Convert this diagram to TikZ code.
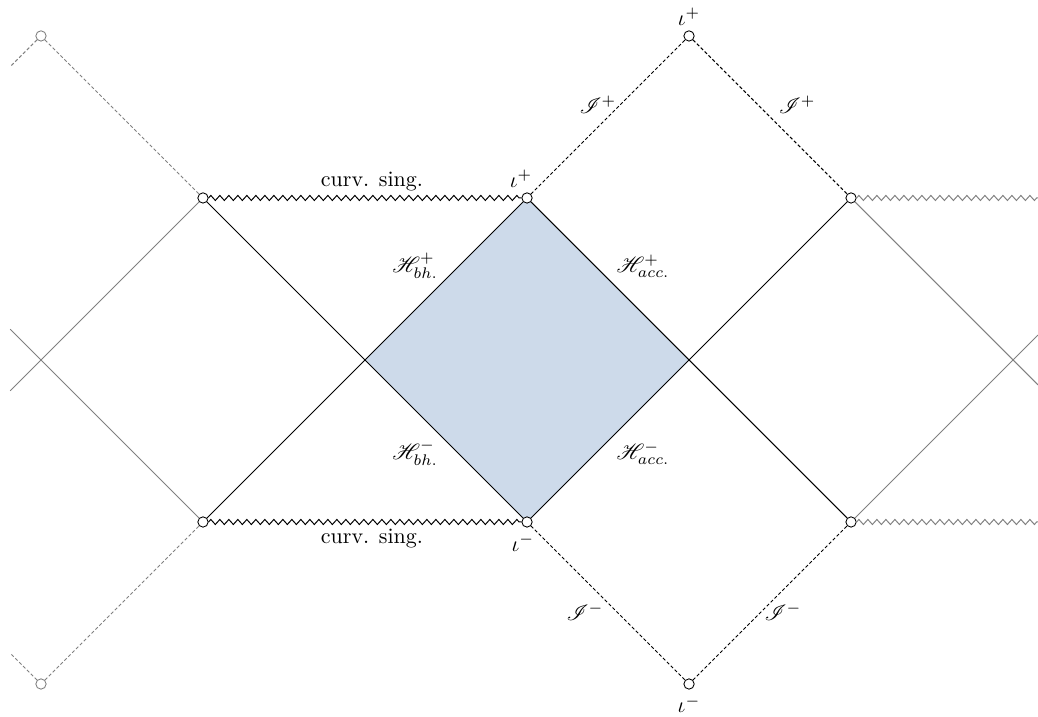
\documentclass[tikz,border=0pt]{standalone}
\usepackage{mathrsfs}
\usetikzlibrary{decorations.pathmorphing}
\definecolor{diamondfill}{RGB}{205,218,234}
\definecolor{lgray}{RGB}{128,128,128}
\tikzset{
  pt/.style={circle,draw=black,fill=white,inner sep=0pt,minimum size=0.165cm,line width=0.4pt},
  gpt/.style={pt,draw=lgray},
  hor/.style={draw=black,line width=0.45pt},
  ghor/.style={draw=lgray,line width=0.45pt},
  scri/.style={draw=black,line width=0.45pt,dash pattern=on 1.5pt off 1pt},
  gscri/.style={draw=lgray,line width=0.45pt,dash pattern=on 1.5pt off 1pt},
  sing/.style={draw=black,line width=0.45pt,decorate,decoration={zigzag,segment length=0.144cm,amplitude=0.04cm}},
  gsing/.style={sing,draw=lgray},
  lbl/.style={inner sep=0pt}
}
\begin{document}
\begin{tikzpicture}[x=2.592cm,y=2.592cm]
\useasboundingbox (-0.253,-2.198) rectangle (6.154,2.222);
% shaded region
\fill[diamondfill] (3,1) -- (2,0) -- (3,-1) -- (4,0) -- cycle;
% points
\node[gpt] (A) at (0,2) {};
\node[gpt] (I) at (0,-2) {};
\node[pt] (B) at (1,1) {};
\node[pt] (C) at (3,1) {};
\node[pt] (D) at (4,2) {};
\node[pt] (E) at (5,1) {};
\node[pt] (F) at (1,-1) {};
\node[pt] (G) at (3,-1) {};
\node[pt] (H) at (4,-2) {};
\node[pt] (J) at (5,-1) {};
\coordinate (L1) at (-0.19,-0.19);
\coordinate (L2) at (-0.19,0.19);
\coordinate (L3) at (-0.19,1.81);
\coordinate (L4) at (-0.19,-1.81);
\coordinate (R1) at (6.154,-0.154);
\coordinate (R2) at (6.154,0.154);
\coordinate (R3) at (6.154,1);
\coordinate (R4) at (6.154,-1);
% gray outer parts
\draw[ghor] (B) -- (L1);
\draw[ghor] (F) -- (L2);
\draw[gscri] (A) -- (B);
\draw[gscri] (A) -- (L3);
\draw[gscri] (I) -- (F);
\draw[gscri] (I) -- (L4);
\draw[ghor] (E) -- (R1);
\draw[ghor] (J) -- (R2);
\draw[gsing] (E) -- (R3);
\draw[gsing] (J) -- (R4);
% horizons
\draw[hor] (B) -- (G);
\draw[hor] (F) -- (C);
\draw[hor] (C) -- (J);
\draw[hor] (G) -- (E);
% null infinity
\draw[scri] (C) -- (D);
\draw[scri] (D) -- (E);
\draw[scri] (G) -- (H);
\draw[scri] (H) -- (J);
% singularities
\draw[sing] (B) -- (C);
\draw[sing] (F) -- (G);
% labels
\node[lbl] (s1) at (2.043,1.100) {curv. sing.};
\node[lbl] (s2) at (2.043,-1.105) {curv. sing.};
\node[lbl] (i1) at (2.963,1.118) {$\iota^+$};
\node[lbl] (i2) at (4.0,2.117) {$\iota^+$};
\node[lbl] (i3) at (2.975,-1.130) {$\iota^-$};
\node[lbl] (i4) at (4.0,-2.125) {$\iota^-$};
\node[lbl] (j1) at (3.438,1.574) {$\mathscr{I}^+$};
\node[lbl] (j2) at (4.667,1.574) {$\mathscr{I}^+$};
\node[lbl] (j3) at (3.358,-1.556) {$\mathscr{I}^-$};
\node[lbl] (j4) at (4.580,-1.556) {$\mathscr{I}^-$};
\node[lbl] (h1) at (2.309,0.580) {$\mathscr{H}^+_{bh.}$};
\node[lbl] (h2) at (3.716,0.580) {$\mathscr{H}^+_{acc.}$};
\node[lbl] (h3) at (2.309,-0.575) {$\mathscr{H}^-_{bh.}$};
\node[lbl] (h4) at (3.716,-0.575) {$\mathscr{H}^-_{acc.}$};
\end{tikzpicture}
\end{document}
